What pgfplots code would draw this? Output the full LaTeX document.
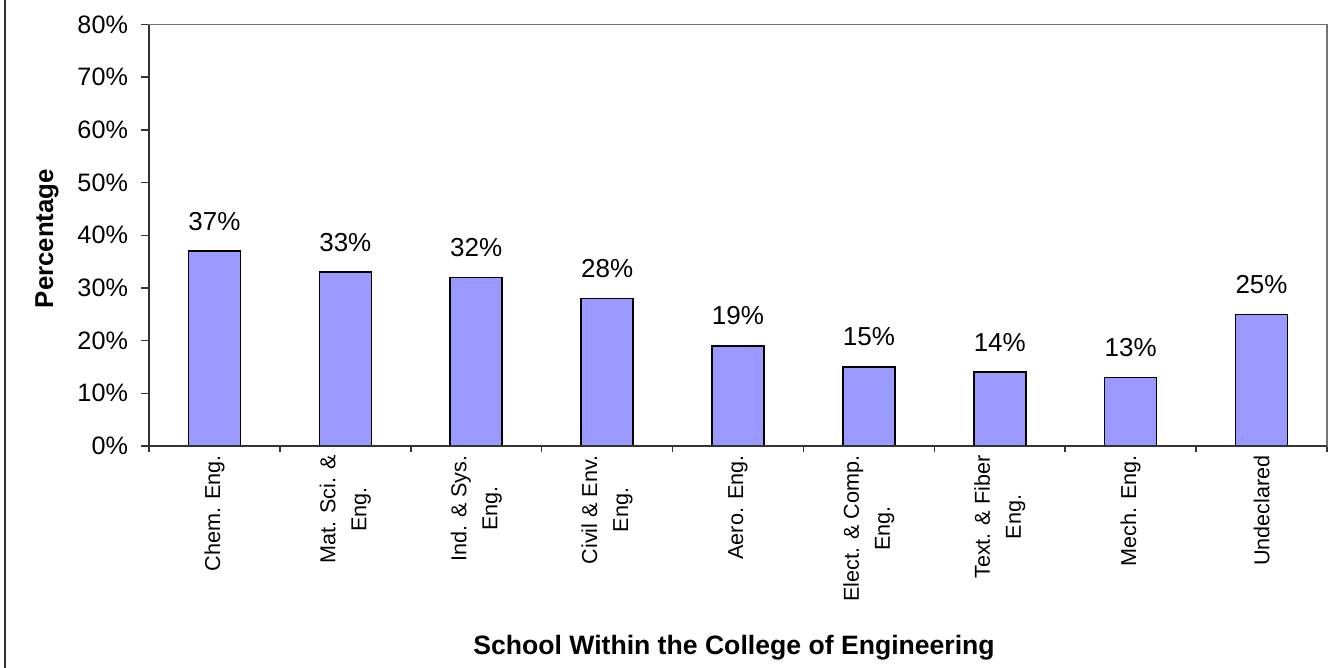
\documentclass[border=0pt]{standalone}
\usepackage{pgfplots}
\pgfplotsset{compat=1.18}
\usepackage{fontspec}
\setmainfont{Liberation Sans}
\definecolor{barfill}{HTML}{9999FF}
\definecolor{darkax}{HTML}{333333}
\begin{document}
\begin{tikzpicture}
\begin{axis}[
  at={(0,0)}, anchor=south west,
  scale only axis,
  width=589pt, height=210.75pt,
  xmin=-0.5, xmax=8.5,
  ymin=0, ymax=80,
  ytick={0,10,...,80},
  yticklabel={\pgfmathprintnumber{\tick}\%},
  /pgf/number format/assume math mode=true,
  xtick={0,...,8},
  xticklabels={Chem. Eng., Mat. Sci. \&\\Eng., Ind. \& Sys.\\Eng., Civil \& Env.\\Eng., Aero. Eng., Elect. \& Comp.\\Eng., Text. \& Fiber\\Eng., Mech. Eng., Undeclared},
  minor xtick={-0.5,0.5,...,8.5},
  xtick pos=bottom, ytick pos=left,
  tick align=outside,
  major x tick style={draw=none},
  major tick length=4pt,
  minor tick length=3pt,
  tick style={darkax, line width=0.75pt},
  minor x tick style={darkax, line width=0.75pt},
  axis line style={draw=gray!90!black, line width=0.75pt},
  yticklabel style={xshift=-3pt, font=\fontsize{12.6}{14}\selectfont},
  xticklabel style={rotate=90, anchor=east, align=center, inner sep=0.5pt, font=\fontsize{10.8}{15.5}\selectfont},
  ylabel={\textbf{Percentage}},
  ylabel style={at={(axis description cs:0,0.492)}, anchor=center, yshift=51pt, font=\fontsize{12.9}{14}\selectfont},
  xlabel={\textbf{School Within the College of Engineering}},
  xlabel style={at={(axis description cs:0.4966,0)}, anchor=center, yshift=-101pt, font=\fontsize{13.3}{15}\selectfont},
  ybar, bar width=26pt,
  nodes near coords={\pgfmathprintnumber{\pgfplotspointmeta}\%},
  nodes near coords style={font=\fontsize{13}{14}\selectfont, anchor=south, inner sep=0pt, yshift=10pt},
  clip=false,
]
\addplot[fill=barfill, draw=black, line width=0.75pt] coordinates {
  (0,37) (1,33) (2,32) (3,28) (4,19) (5,15) (6,14) (7,13) (8,25)
};
\draw[darkax, line width=0.75pt] (rel axis cs:0,1) -- (rel axis cs:0,0) -- (rel axis cs:1,0);
\end{axis}
\draw[darkax, line width=1pt] (-72pt,-111pt) -- (-72pt,223pt);
\pgfresetboundingbox
\path (-74.5pt,-111pt) rectangle (594.5pt,223pt);
\end{tikzpicture}
\end{document}
